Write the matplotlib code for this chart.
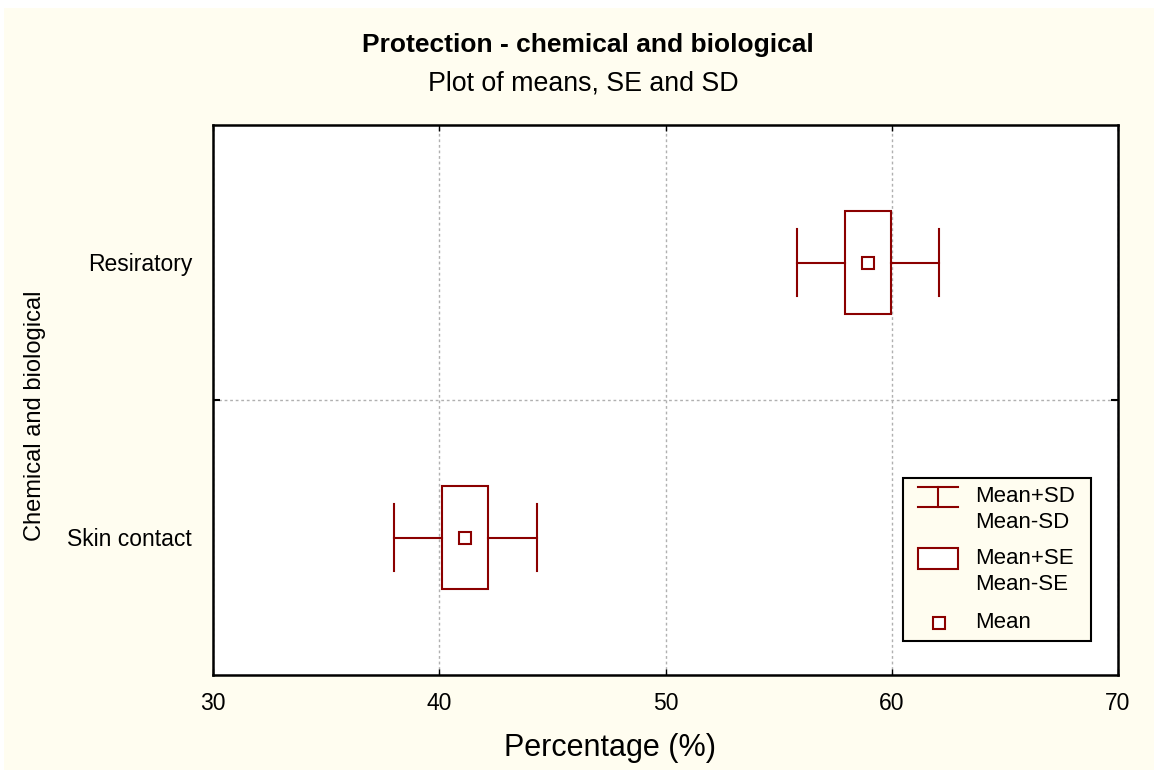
import numpy as np
import matplotlib.pyplot as plt
from matplotlib.patches import Rectangle
from matplotlib.lines import Line2D

plt.rcParams['font.family'] = ['Liberation Sans', 'DejaVu Sans']

# data
groups = ['Skin contact', 'Resiratory']
means = [41.15, 58.95]
se = [1.02, 1.0]
sd = [3.15, 3.12]

dark_red = '#8B0000'
cream = '#FFFDF0'

fig = plt.figure(figsize=(11.54, 7.7), dpi=100, facecolor='white')
# cream background with thin white border top/left
fig.patches.append(Rectangle((4 / 1154, 0), 1, 1 - 8 / 770, transform=fig.transFigure,
                             facecolor=cream, edgecolor='none', zorder=-10))
ax = fig.add_axes([213 / 1154, 1 - 675 / 770, 905 / 1154, 550 / 770])
ax.set_facecolor('white')

box_h = 0.378
cap_h = 0.244
ypos = np.arange(len(groups))
for y, m, e, s in zip(ypos, means, se, sd):
    # SD whiskers
    ax.plot([m - s, m - e], [y, y], color=dark_red, lw=1.5, zorder=3)
    ax.plot([m + e, m + s], [y, y], color=dark_red, lw=1.5, zorder=3)
    ax.plot([m - s, m - s], [y - cap_h / 2, y + cap_h / 2], color=dark_red, lw=1.5, zorder=3)
    ax.plot([m + s, m + s], [y - cap_h / 2, y + cap_h / 2], color=dark_red, lw=1.5, zorder=3)
    # SE box
    ax.add_patch(Rectangle((m - e, y - box_h / 2), 2 * e, box_h, facecolor='none',
                           edgecolor=dark_red, lw=1.5, zorder=3))
    # mean
    ax.plot([m], [y], marker='s', ms=8, mfc='white', mec=dark_red, mew=1.5, zorder=4)

ax.set_xlim(30, 70)
ax.set_ylim(-0.5, 1.5)
ax.set_xticks([30, 40, 50, 60, 70])
ax.set_yticks(ypos)
ax.set_yticklabels(groups)
ax.set_yticks([0.5], minor=True)
ax.tick_params(axis='x', direction='in', length=4, width=1, top=True, labelsize=16.5, pad=12)
ax.tick_params(axis='y', which='major', length=0, labelsize=16.5, pad=15)
ax.tick_params(axis='y', which='minor', direction='in', length=5, width=1.5, right=True)
ax.grid(True, axis='x', color='#b0b0b0', ls=(0, (2, 2)), lw=1)
ax.grid(True, axis='y', which='minor', color='#b0b0b0', ls=(0, (2, 2)), lw=1)
for sp in ax.spines.values():
    sp.set_linewidth(1.8)

fig.text(610 / 1154, 1 - 748 / 770, 'Percentage (%)', ha='center', va='center', fontsize=22)
fig.text(35 / 1154, 1 - 416 / 770, 'Chemical and biological', ha='center', va='center',
         rotation=90, fontsize=17)

fig.text(588 / 1154, 1 - 45 / 770, 'Protection - chemical and biological', ha='center',
         va='center', fontsize=19, fontweight='bold')
fig.text(583 / 1154, 1 - 83 / 770, 'Plot of means, SE and SD', ha='center', va='center',
         fontsize=19.3)

# legend drawn by hand
T = ax.transAxes
def ax_x(px):
    return (px - 213) / 905
def ax_y(py):
    return (675 - py) / 550

ax.add_patch(Rectangle((ax_x(903), ax_y(641)), ax_x(1091) - ax_x(903), ax_y(478) - ax_y(641),
                       transform=T, facecolor=cream, edgecolor='black', lw=1.5, zorder=5))
kw = dict(transform=T, color=dark_red, lw=1.5, zorder=6)
ax.add_line(Line2D([ax_x(918), ax_x(958)], [ax_y(487), ax_y(487)], **kw))
ax.add_line(Line2D([ax_x(918), ax_x(958)], [ax_y(507), ax_y(507)], **kw))
ax.add_line(Line2D([ax_x(938), ax_x(938)], [ax_y(487), ax_y(507)], **kw))
ax.add_patch(Rectangle((ax_x(918), ax_y(569)), ax_x(958) - ax_x(918), ax_y(548) - ax_y(569),
                       transform=T, facecolor='white', edgecolor=dark_red, lw=1.5, zorder=6))
ax.add_line(Line2D([ax_x(939)], [ax_y(623)], transform=T, marker='s', ms=8, mfc='white',
                   mec=dark_red, mew=1.5, ls='none', zorder=6))
tkw = dict(transform=T, fontsize=16, va='center', ha='left', zorder=6)
ax.text(ax_x(975), ax_y(497), 'Mean+SD', **tkw)
ax.text(ax_x(975), ax_y(522), 'Mean-SD', **tkw)
ax.text(ax_x(975), ax_y(558), 'Mean+SE', **tkw)
ax.text(ax_x(975), ax_y(584), 'Mean-SE', **tkw)
ax.text(ax_x(975), ax_y(622), 'Mean', **tkw)

fig.savefig('out.png', dpi=100, facecolor=fig.get_facecolor())
